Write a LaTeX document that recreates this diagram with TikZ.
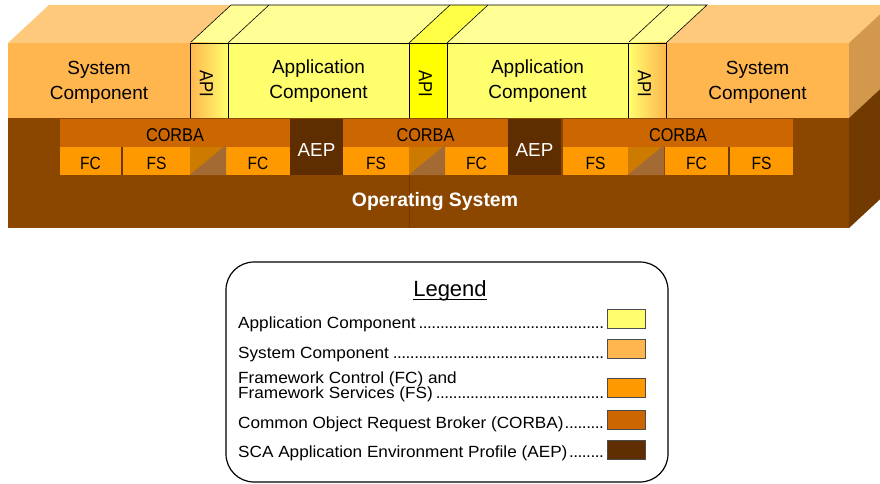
\documentclass[tikz,border=0pt]{standalone}
\usepackage{fontspec}
\setmainfont{Liberation Sans}
\newfontfamily\narrowfont[FakeStretch=0.88]{Liberation Sans}
\newfontfamily\legendfont[FakeStretch=1.06]{Liberation Sans}
\newcommand\legdots{\leaders\hbox to 4.3pt{\hss.\hss}\hfill}

% layer colours
\definecolor{appY}{HTML}{FFFF6E}
\definecolor{appTop}{HTML}{FFFF96}
\definecolor{apiY}{HTML}{FFFF00}
\definecolor{apiTop}{HTML}{FFFF45}
\definecolor{sysO}{HTML}{FFB64F}
\definecolor{sysTop}{HTML}{FFC97C}
\definecolor{sysSide}{HTML}{D3984B}
\definecolor{fwO}{HTML}{FF9900}
\definecolor{corbaO}{HTML}{CC6600}
\definecolor{aepB}{HTML}{5E2E00}
\definecolor{osB}{HTML}{8B4700}
\definecolor{osSide}{HTML}{713A00}
\definecolor{triA}{HTML}{CC7A00}
\definecolor{triB}{HTML}{A36A34}
\definecolor{sepB}{HTML}{6E3600}

\tikzset{
  face/.style={inner sep=0pt, outer sep=0pt, anchor=north west},
  edge/.style={draw=black, line width=0.6pt},
  bigtxt/.style={font=\fontsize{19}{25}\selectfont, align=center, inner sep=0pt},
  apitxt/.style={font=\narrowfont\fontsize{19}{20}\selectfont, rotate=-90, inner sep=0pt},
  corbatxt/.style={font=\narrowfont\fontsize{18.5}{20}\selectfont, anchor=base, inner sep=0pt},
  fwtxt/.style={font=\narrowfont\fontsize{17.7}{20}\selectfont, anchor=base, inner sep=0pt},
  aeptxt/.style={font=\fontsize{18.8}{22}\selectfont, text=white, anchor=base, inner sep=0pt},
  fwbox/.style={face, fill=fwO, minimum height=28pt},
  corbabox/.style={face, fill=corbaO, minimum height=28pt},
  aepbox/.style={face, fill=aepB, minimum width=53pt, minimum height=56pt},
  sepline/.style={face, fill=sepB, minimum width=2pt, minimum height=28pt},
  legtxt/.style={font=\legendfont\fontsize{16.2}{15}\selectfont, anchor=base west, inner sep=0pt},
  swatch/.style={face, draw=black!70, line width=0.6pt, minimum width=38pt, minimum height=19pt},
}

\begin{document}
\begin{tikzpicture}[x=1pt, y=-1pt]
\useasboundingbox (0,0) rectangle (880,484);
\fill[white] (0,0) rectangle (880,484);
\begin{scope}
\clip (0,0) rectangle (880,484);

% ---- top faces ----
\fill[sysTop] (8,43) -- (49,5) -- (231,5) -- (190,43) -- cycle;
\fill[sysTop] (666,43) -- (707,5) -- (890,5) -- (849,43) -- cycle;
\fill[appTop] (190,43) -- (231,5) -- (707,5) -- (666,43) -- cycle;
\fill[apiTop] (409,43) -- (450,5) -- (488,5) -- (447,43) -- cycle;
\draw[edge] (190,43) -- (231,5) -- (707,5) -- (666,43);
\draw[edge] (228,43) -- (269,5);
\draw[edge] (409,43) -- (450,5);
\draw[edge] (447,43) -- (488,5);
\draw[edge] (628,43) -- (669,5);

% ---- right side faces ----
\fill[sysSide] (849,43) -- (890,5) -- (890,80) -- (849,118) -- cycle;
\fill[osSide] (849,118) -- (890,80) -- (890,190) -- (849,228) -- cycle;

% ---- component layer ----
\node[face, fill=sysO, minimum width=182pt, minimum height=75pt] (sysL) at (8,43) {};
\node[face, fill=sysO, minimum width=183pt, minimum height=75pt] (sysR) at (666,43) {};
\node[face, edge, left color=sysO, right color=appY, minimum width=38pt, minimum height=75pt] (api1) at (190,43) {};
\node[face, edge, fill=appY, minimum width=181pt, minimum height=75pt] (app1) at (228,43) {};
\node[face, edge, fill=apiY, minimum width=38pt, minimum height=75pt] (api2) at (409,43) {};
\node[face, edge, fill=appY, minimum width=181pt, minimum height=75pt] (app2) at (447,43) {};
\node[face, edge, left color=appY, right color=sysO, minimum width=38pt, minimum height=75pt] (api3) at (628,43) {};

\node[bigtxt] (sysLt) at ([yshift=-2pt]sysL.center) {System\\Component};
\node[bigtxt] (sysRt) at ([yshift=-2pt]sysR.center) {System\\Component};
\node[bigtxt] (app1t) at ([yshift=-1pt]app1.center) {Application\\Component};
\node[bigtxt] (app2t) at ([yshift=-1pt]app2.center) {Application\\Component};
\node[apitxt] (api1t) at ([xshift=-2.5pt, yshift=-3pt]api1.center) {API};
\node[apitxt] (api2t) at ([xshift=-2.5pt, yshift=-3pt]api2.center) {API};
\node[apitxt] (api3t) at ([xshift=-2.5pt, yshift=-3pt]api3.center) {API};

% ---- operating system ----
\node[face, fill=osB, minimum width=841pt, minimum height=110pt] (os) at (8,118) {};
\draw[osB!80!black, line width=0.4pt] (409,175) -- (409,228);
\node[font=\bfseries\fontsize{19.4}{22}\selectfont, text=white, anchor=base, inner sep=0pt] (ostxt) at (435,206.5) {Operating System};

% ---- CORBA and AEP ----
\node[corbabox, minimum width=230pt] (corba1) at (60,119) {};
\node[aepbox] (aep1) at (290,119) {};
\node[corbabox, minimum width=165pt] (corba2) at (343,119) {};
\node[aepbox] (aep2) at (508,119) {};
\node[corbabox, minimum width=230pt] (corba3) at (563,119) {};
\node[corbatxt] (corba1t) at (corba1.center |- 0,141.7) {CORBA};
\node[corbatxt] (corba2t) at (corba2.center |- 0,141.7) {CORBA};
\node[corbatxt] (corba3t) at (corba3.center |- 0,141.7) {CORBA};
\node[aeptxt] (aep1t) at (aep1.center |- 0,156.7) {AEP};
\node[aeptxt] (aep2t) at (aep2.center |- 0,156.7) {AEP};

% ---- framework control / services ----
\node[fwbox, minimum width=61pt] (fc1) at (60,147) {};
\node[sepline] (sep1) at (121,147) {};
\node[fwbox, minimum width=67pt] (fs1) at (123,147) {};
\node[fwbox, minimum width=64pt] (fc2) at (226,147) {};
\node[fwbox, minimum width=66pt] (fs2) at (343,147) {};
\node[fwbox, minimum width=63pt] (fc3) at (445,147) {};
\node[fwbox, minimum width=65pt] (fs3) at (563,147) {};
\node[fwbox, minimum width=63pt] (fc4) at (665,147) {};
\node[sepline] (sep2) at (728,147) {};
\node[fwbox, minimum width=63pt] (fs4) at (730,147) {};
\foreach \b/\t in {fc1/FC, fs1/FS, fc2/FC, fs2/FS, fc3/FC, fs3/FS, fc4/FC, fs4/FS}{
  \node[fwtxt] (\b t) at (\b.center |- 0,169.3) {\t};
}

% split squares between FS and FC
\foreach \x in {190,409,628}{
  \fill[triA] (\x,147) -- (\x+36,147) -- (\x,175) -- cycle;
  \fill[triB] (\x,175) -- (\x+36,145) -- (\x+36,175) -- cycle;
}
\end{scope}

% ---- legend ----
\node[face, draw=black, line width=1.2pt, rounded corners=28pt, minimum width=442pt, minimum height=220pt] (legend) at (226,262) {};
\node[font=\fontsize{22}{24}\selectfont, anchor=base, inner sep=0pt] (legtitle) at (450,296) {Legend};
\draw[line width=1.3pt] (legtitle.base west) ++(0,3.3) coordinate (ulA) -- (ulA -| legtitle.base east);

\node[legtxt] (l1) at (238,328.3) {\hbox to 369pt{Application Component\legdots}};
\node[legtxt] (l2) at (238,358.5) {\hbox to 369pt{System Component\legdots}};
\node[legtxt] (l3a) at (238,383.3) {Framework Control (FC) and};
\node[legtxt] (l3b) at (238,398.3) {\hbox to 369pt{Framework Services (FS)\legdots}};
\node[legtxt] (l4) at (238,428) {\hbox to 369pt{Common Object Request Broker (CORBA)\legdots}};
\node[legtxt] (l5) at (238,457.5) {\hbox to 369pt{SCA Application Environment Profile (AEP)\legdots}};

\node[swatch, fill=appY] (s1) at (607,309) {};
\node[swatch, fill=sysO] (s2) at (607,339) {};
\node[swatch, fill=fwO] (s3) at (607,378) {};
\node[swatch, fill=corbaO] (s4) at (607,410) {};
\node[swatch, fill=aepB] (s5) at (607,440) {};
\end{tikzpicture}
\end{document}
